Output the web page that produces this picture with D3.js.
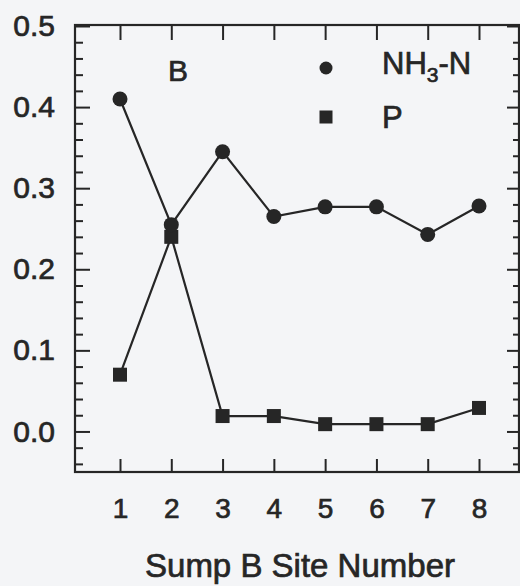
<!DOCTYPE html>
<html>
<head>
<meta charset="utf-8">
<script src="https://cdn.jsdelivr.net/npm/d3@7"></script>
<style>
  html, body { margin: 0; padding: 0; background: #f4f5f7; }
  svg { display: block; }
  text { font-family: "Liberation Sans", Arial, sans-serif; fill: #262626; stroke: #262626; stroke-width: 0.7px; }
</style>
</head>
<body>
<svg id="chart" width="520" height="586"></svg>
<script>
// Sump B site numbers and measured concentrations
const sites = [1, 2, 3, 4, 5, 6, 7, 8];
const nh3n = [0.41, 0.255, 0.345, 0.265, 0.277, 0.277, 0.243, 0.278];
const phos = [0.07, 0.24, 0.019, 0.019, 0.009, 0.009, 0.009, 0.029];
const yMajorTicks = [0.0, 0.1, 0.2, 0.3, 0.4, 0.5];
const yMinorTicks = [-0.04, -0.02, 0.02, 0.04, 0.06, 0.08, 0.12, 0.14, 0.16, 0.18,
                     0.22, 0.24, 0.26, 0.28, 0.32, 0.34, 0.36, 0.38, 0.42, 0.44, 0.46, 0.48];
const seriesNames = ["NH3-N", "P"];
const panelLabel = "B";
const xTitle = "Sump B Site Number";

const svg = d3.select("#chart");
const ink = "#262626";
const fontFam = "Liberation Sans, Arial, sans-serif";

// plot frame
const frame = { left: 75, right: 519, top: 25, bottom: 472 };

const x = d3.scaleLinear().domain([1, 8]).range([120, 479]);
const y = d3.scaleLinear().domain([-0.05, 0.5]).range([frame.bottom, 26]);

// frame box
svg.append("rect")
  .attr("x", frame.left).attr("y", frame.top)
  .attr("width", frame.right - frame.left).attr("height", frame.bottom - frame.top)
  .attr("fill", "none").attr("stroke", ink).attr("stroke-width", 2.2);

// left axis: inward ticks with labels
const leftAxis = d3.axisLeft(y).tickValues(yMajorTicks).tickSize(-15)
  .tickFormat(d3.format(".1f")).tickPadding(20);
const gl = svg.append("g").attr("transform", `translate(${frame.left},0)`).call(leftAxis);
gl.attr("font-size", null).attr("font-family", null);
gl.select(".domain").remove();
gl.selectAll(".tick line").attr("stroke", ink).attr("stroke-width", 2);
gl.selectAll(".tick text").attr("font-size", 30).attr("fill", ink)
  .attr("font-family", fontFam);

const glm = svg.append("g").attr("transform", `translate(${frame.left},0)`)
  .call(d3.axisLeft(y).tickValues(yMinorTicks).tickSize(-8).tickFormat(""));
glm.select(".domain").remove();
glm.selectAll(".tick line").attr("stroke", ink).attr("stroke-width", 2);

// right axis: inward ticks, no labels
const gr = svg.append("g").attr("transform", `translate(${frame.right},0)`)
  .call(d3.axisRight(y).tickValues(yMajorTicks).tickSize(-12).tickFormat(""));
gr.select(".domain").remove();
gr.selectAll(".tick line").attr("stroke", ink).attr("stroke-width", 2);
const grm = svg.append("g").attr("transform", `translate(${frame.right},0)`)
  .call(d3.axisRight(y).tickValues(yMinorTicks).tickSize(-6).tickFormat(""));
grm.select(".domain").remove();
grm.selectAll(".tick line").attr("stroke", ink).attr("stroke-width", 2);

// bottom axis: inward ticks with labels
const gb = svg.append("g").attr("transform", `translate(0,${frame.bottom})`)
  .call(d3.axisBottom(x).tickValues(sites).tickSize(-13).tickPadding(26).tickFormat(d3.format("d")));
gb.attr("font-size", null).attr("font-family", null);
gb.select(".domain").remove();
gb.selectAll(".tick line").attr("stroke", ink).attr("stroke-width", 2);
gb.selectAll(".tick text").attr("font-size", 28).attr("fill", ink)
  .attr("font-family", fontFam);

// top axis: inward ticks, no labels
const gt = svg.append("g").attr("transform", `translate(0,${frame.top})`)
  .call(d3.axisTop(x).tickValues(sites).tickSize(-15).tickFormat(""));
gt.select(".domain").remove();
gt.selectAll(".tick line").attr("stroke", ink).attr("stroke-width", 2);

// x-axis title
svg.append("text")
  .attr("x", (frame.left + frame.right) / 2 + 3).attr("y", 577)
  .attr("text-anchor", "middle").attr("font-size", 33)
  .text(xTitle);

// panel label
svg.append("text").attr("x", 168).attr("y", 81).attr("font-size", 30).text(panelLabel);

// series lines and markers
const line = d3.line().x((d, i) => x(sites[i])).y(d => y(d));

svg.append("path").datum(nh3n).attr("d", line)
  .attr("fill", "none").attr("stroke", ink).attr("stroke-width", 2.2);
svg.append("path").datum(phos).attr("d", line)
  .attr("fill", "none").attr("stroke", ink).attr("stroke-width", 2.2);

const sq = 14;
svg.append("g").selectAll("rect").data(phos).join("rect")
  .attr("x", (d, i) => x(sites[i]) - sq / 2).attr("y", d => y(d) - sq / 2)
  .attr("width", sq).attr("height", sq).attr("fill", ink);

svg.append("g").selectAll("circle").data(nh3n).join("circle")
  .attr("cx", (d, i) => x(sites[i])).attr("cy", d => y(d)).attr("r", 7.5)
  .attr("fill", ink);

// legend
const legend = svg.append("g");
legend.append("circle").attr("cx", 326).attr("cy", 68).attr("r", 6.5).attr("fill", ink);
legend.append("rect").attr("x", 326 - 6.5).attr("y", 117 - 6.5).attr("width", 13).attr("height", 13).attr("fill", ink);
const t1 = legend.append("text").attr("x", 382).attr("y", 74).attr("font-size", 31);
t1.append("tspan").text("NH");
t1.append("tspan").attr("font-size", 21).attr("dy", 8).text("3");
t1.append("tspan").attr("dy", -8).text("-N");
legend.append("text").attr("x", 382).attr("y", 128).attr("font-size", 31).text(seriesNames[1]);
</script>
</body>
</html>
